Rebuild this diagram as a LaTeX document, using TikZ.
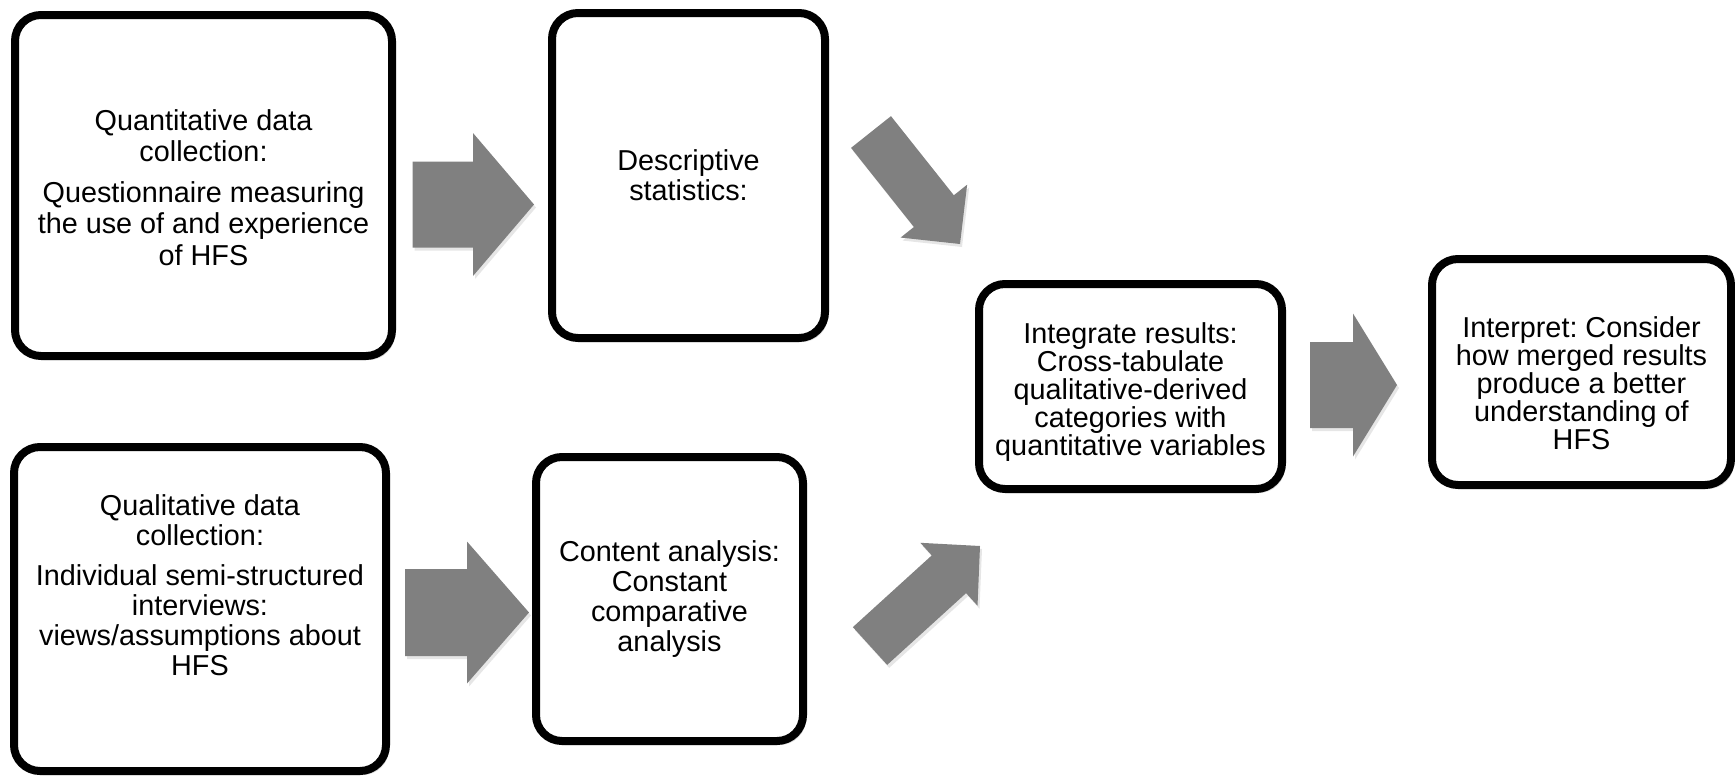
\documentclass[tikz,border=0pt]{standalone}
\usepackage{fontspec}
\setmainfont{Liberation Sans}
\frenchspacing
\usetikzlibrary{calc,shadows}

% block arrow: tail, tip, half shaft width, half head width, head length
\newcommand{\fatarrow}[5]{%
  \coordinate (fa-h) at ($(#2)!#5!(#1)$);
  \fill[arrowfill] ($(#1)!#3!90:(#2)$) -- ($(fa-h)!#3!90:(#2)$) -- ($(fa-h)!#4!90:(#2)$)
    -- (#2) -- ($(fa-h)!#4!-90:(#2)$) -- ($(fa-h)!#3!-90:(#2)$) -- ($(#1)!#3!-90:(#2)$) -- cycle;
}

\begin{document}
\begin{tikzpicture}[x=0.5pt, y=-0.5pt,
  box/.style={draw, line width=4pt, rounded corners=13pt, fill=white,
    drop shadow={opacity=.25, shadow xshift=1.5pt, shadow yshift=-2pt}},
  txt/.style={align=center, font=\fontsize{14.4}{15}\selectfont},
  tighttxt/.style={txt, font=\fontsize{14.4}{14}\selectfont},
  arrowfill/.style={fill=black!50,
    drop shadow={opacity=.2, shadow xshift=1pt, shadow yshift=-1.5pt}}]
  \useasboundingbox (0,0) rectangle (1735,776);

  % boxes
  \node[box, minimum width=188.5pt, minimum height=170.5pt] (qncoll) at (203.5,185.5) {};
  \node[box, minimum width=136.5pt, minimum height=162.5pt] (desc) at (688.5,175.5) {};
  \node[box, minimum width=151.5pt, minimum height=102.5pt] (integ) at (1130.5,386.5) {};
  \node[box, minimum width=149.5pt, minimum height=113pt] (interp) at (1581.5,372) {};
  \node[box, minimum width=186pt, minimum height=162pt] (qlcoll) at (200,609) {};
  \node[box, minimum width=133.5pt, minimum height=142pt] (content) at (669.5,599) {};

  % texts
  \node[txt, font=\fontsize{14.4}{15.6}\selectfont] (qncoll-t) at ([yshift=-1pt]qncoll.center) {Quantitative data\\ collection:\\[5pt] Questionnaire measuring\\ the use of and experience\\ of HFS};
  \node[txt] (desc-t) at (desc) {Descriptive\\ statistics:};
  \node[tighttxt] (integ-t) at ([yshift=-3pt]integ.center) {Integrate results:\\ Cross-tabulate\\ qualitative-derived\\ categories with\\ quantitative variables};
  \node[tighttxt] (interp-t) at ([yshift=-5.5pt]interp.center) {Interpret: Consider\\ how merged results\\ produce a better\\ understanding of\\ HFS};
  \node[txt] (qlcoll-t) at ([yshift=12pt]qlcoll.center) {Qualitative data\\ collection:\\[5pt] Individual semi-structured\\ interviews:\\ views/assumptions about\\ HFS};
  \node[txt] (content-t) at (content) {Content analysis:\\ Constant\\ comparative\\ analysis};

  % arrows
  \coordinate (a1s) at (412.5,204.5);  \coordinate (a1e) at (534,204.5);
  \coordinate (a2s) at (405,612.5);    \coordinate (a2e) at (529,612.5);
  \coordinate (a3s) at (1310,385);     \coordinate (a3e) at (1397,385);
  \coordinate (a4s) at (871,132);      \coordinate (a4e) at (960,244);
  \coordinate (a5s) at (870,646);      \coordinate (a5e) at (980,546);
  \fatarrow{a1s}{a1e}{21.5pt}{35.75pt}{30.5pt}
  \fatarrow{a2s}{a2e}{21.75pt}{35.5pt}{31pt}
  \fatarrow{a3s}{a3e}{21.5pt}{35.75pt}{22pt}
  \fatarrow{a4s}{a4e}{12.75pt}{21.25pt}{21pt}
  \fatarrow{a5s}{a5e}{12.75pt}{21.25pt}{21pt}
\end{tikzpicture}
\end{document}
